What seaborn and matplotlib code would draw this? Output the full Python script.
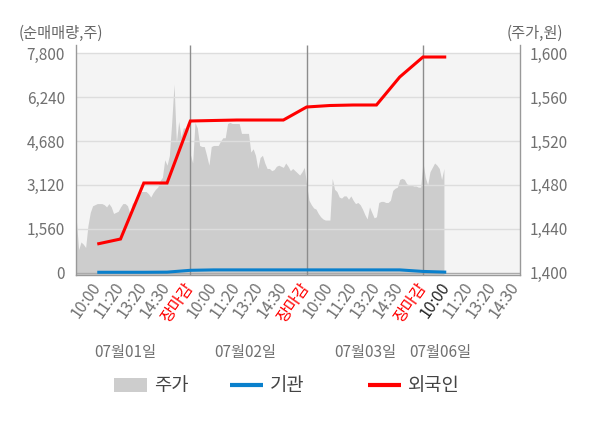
import numpy as np
import pandas as pd
import matplotlib
matplotlib.use("Agg")
import matplotlib.pyplot as plt
import seaborn as sns
from matplotlib.patches import Patch
from matplotlib.lines import Line2D

# ---------------- data ----------------
tick_labels = ["10:00", "11:20", "13:20", "14:30", "장마감"] * 3 + ["10:00", "11:20", "13:20", "14:30"]
date_labels = ["07월01일", "07월02일", "07월03일", "07월06일"]

# stock price (주가), sampled every 0.1 of a trading-day slot
price_day1 = [1453, 1448, 1421, 1428, 1426, 1423, 1443, 1455, 1461, 1462,
              1463, 1463, 1463, 1462, 1460, 1463, 1460, 1454, 1455, 1456,
              1460, 1463, 1463, 1461, 1454, 1463, 1465, 1468, 1471, 1474,
              1474, 1474, 1472, 1469, 1473, 1476, 1478, 1484, 1487, 1503,
              1498, 1507, 1537, 1572, 1519, 1538, 1524, 1532, 1532, 1538]
price_day2 = [1508, 1500, 1537, 1532, 1516, 1515, 1515, 1507, 1498, 1515,
              1516, 1516, 1516, 1520, 1523, 1523, 1536, 1537, 1536, 1536,
              1536, 1536, 1527, 1527, 1527, 1527, 1510, 1513, 1507, 1495,
              1505, 1507, 1500, 1495, 1495, 1493, 1494, 1497, 1498, 1497,
              1496, 1500, 1497, 1493, 1495, 1493, 1491, 1489, 1492, 1496]
price_day3 = [1480, 1466, 1462, 1459, 1458, 1454, 1451, 1449, 1448, 1448,
              1448, 1486, 1476, 1474, 1469, 1468, 1470, 1470, 1467, 1470,
              1466, 1463, 1464, 1462, 1458, 1453, 1449, 1460, 1455, 1450,
              1451, 1464, 1465, 1465, 1464, 1464, 1466, 1475, 1477, 1478,
              1485, 1486, 1485, 1481, 1480, 1480, 1479, 1479, 1478, 1478]
price_day4 = [1501, 1487, 1480, 1492, 1496, 1500, 1498, 1495, 1485, 1495]

# cumulative net buying (순매매량) at each tick
foreign = [1020, 1198, 3189, 3189, 5393, 5411, 5428, 5428, 5428, 5891,
           5944, 5962, 5962, 6957, 7668, 7668]
institution = [15, 15, 15, 20, 85, 100, 100, 100, 100, 100,
               100, 100, 100, 100, 45, 20]

left_ticks = [0, 1560, 3120, 4680, 6240, 7800]
right_ticks = [1400, 1440, 1480, 1520, 1560, 1600]

# ---------------- build frames ----------------
price_days = [price_day1, price_day2, price_day3, price_day4]
px, pv = [], []
for d, vals in enumerate(price_days):
    for k, v in enumerate(vals):
        px.append(d * 5 + k * 0.1)
        pv.append(v)
price_df = pd.DataFrame({"x": px, "price": pv})

n = len(foreign)
line_df = pd.DataFrame({
    "x": list(range(1, n + 1)) * 2,
    "val": foreign + institution,
    "who": ["외국인"] * n + ["기관"] * n,
})

# ---------------- style ----------------
sns.set_theme(style="white")
plt.rcParams["font.family"] = ["Noto Sans CJK KR", "DejaVu Sans"]
plt.rcParams["axes.unicode_minus"] = False

RED = "#ff0000"
BLUE = "#0a80cc"
AREA = "#cdcdcd"
TXT = "#707070"

fig = plt.figure(figsize=(6, 4.28), dpi=100)
ax = fig.add_axes([76 / 600, 1 - 274.7 / 428, 444 / 600, (274.7 - 45) / 428])
ax2 = ax.twinx()
ax.set_zorder(3)
ax.patch.set_visible(False)

L0, L1 = -71, 8095
ax.set_ylim(L0, L1)
R0, R1 = 1400 + L0 / 39.0, 1400 + L1 / 39.0
ax2.set_ylim(R0, R1)
X0, X1 = 0.086, 19.17
ax.set_xlim(X0, X1)

# background band and price area
ax2.axhspan(R0, 1600, color="#f4f4f4", lw=0, zorder=0)
ax2.fill_between(price_df["x"], R0, price_df["price"], color=AREA, lw=0, zorder=1)

# grid
for yv in left_ticks[1:]:
    ax.axhline(yv, color="#dddddd", lw=1, zorder=1)
ax.axhline(0, color="#aaaaaa", lw=1, zorder=1)
for xv in [5, 10, 15]:
    ax.axvline(xv, color="#8c8c8c", lw=1, zorder=2)

# lines
sns.lineplot(data=line_df, x="x", y="val", hue="who",
             palette={"외국인": RED, "기관": BLUE},
             hue_order=["기관", "외국인"], lw=2.2, ax=ax, legend=False, zorder=4)
for ln in ax.get_lines():
    ln.set_solid_capstyle("butt")
    ln.set_solid_joinstyle("miter")

# axes ticks
ax.set_xticks(range(1, len(tick_labels) + 1))
ax.set_xticklabels(tick_labels, rotation=55, ha="right", va="center",
                   rotation_mode="anchor", fontsize=11.5)
for i, t in enumerate(ax.get_xticklabels()):
    if tick_labels[i] == "장마감":
        t.set_color(RED)
    elif i == 15:
        t.set_color("#222222")
    else:
        t.set_color(TXT)
ax.tick_params(axis="x", which="major", length=0, pad=7)
ax.set_xticks([X0, 5, 10, 15], minor=True)
ax.tick_params(axis="x", which="minor", length=4, width=1, color="#8c8c8c")

ax.set_yticks(left_ticks)
ax.set_yticklabels([f"{v:,}" for v in left_ticks])
ax.tick_params(axis="y", length=0, pad=8, labelsize=11, labelcolor=TXT)
ax2.set_yticks(right_ticks)
ax2.set_yticklabels([f"{v:,}" for v in right_ticks])
ax2.tick_params(axis="y", length=0, pad=7, labelsize=11, labelcolor=TXT)
ax.set_xlabel("")
ax.set_ylabel("")
ax2.set_ylabel("")

ax.spines["top"].set_visible(False)
for s in ["left", "right", "bottom"]:
    ax.spines[s].set_color("#999999")
    ax.spines[s].set_linewidth(1)
for s in ax2.spines.values():
    s.set_visible(False)

# titles
fig.text(61 / 600, 1 - 33 / 428, "(순매매량,주)", ha="center", va="center", fontsize=11, color="#666666")
fig.text(535 / 600, 1 - 33 / 428, "(주가,원)", ha="center", va="center", fontsize=11, color="#666666")

# date labels
for xpix, lab in zip([125, 245, 365, 440.5], date_labels):
    fig.text(xpix / 600, 1 - 352 / 428, lab, ha="center", va="center", fontsize=11, color=TXT)

# legend
handles = [Patch(facecolor=AREA, edgecolor="none", label="주가"),
           Line2D([], [], color=BLUE, lw=3, solid_capstyle="butt", label="기관"),
           Line2D([], [], color=RED, lw=3, solid_capstyle="butt", label="외국인")]
for h, xpix in zip(handles, [114, 230, 368]):
    fig.legend(handles=[h], loc="center left", bbox_to_anchor=(xpix / 600, 1 - 386 / 428),
               frameon=False, fontsize=13.5, handlelength=1.75, handleheight=0.85,
               handletextpad=0.4, borderpad=0, borderaxespad=0, labelcolor="#444444")

fig.savefig("out.png", dpi=100)
